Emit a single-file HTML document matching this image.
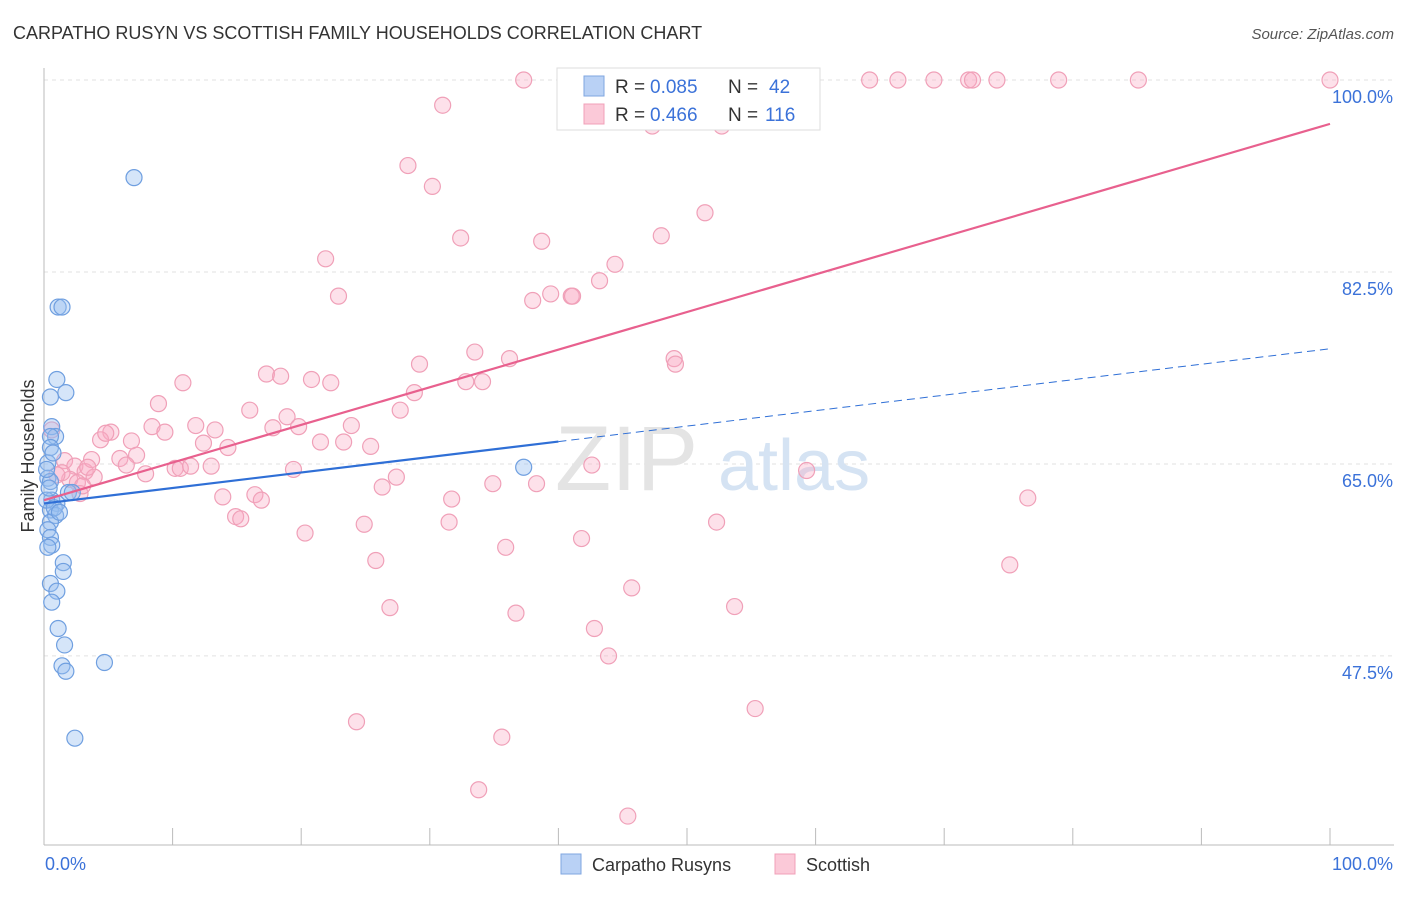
<!DOCTYPE html>
<html><head><meta charset="utf-8"><style>
body{margin:0;background:#fff;font-family:"Liberation Sans",sans-serif}
svg text{font-family:"Liberation Sans",sans-serif}
</style></head><body>
<svg id="chart" width="1406" height="892" xmlns="http://www.w3.org/2000/svg">
<text x="13" y="39" font-size="18" fill="#333">CARPATHO RUSYN VS SCOTTISH FAMILY HOUSEHOLDS CORRELATION CHART</text>
<text x="1394" y="39" font-size="15" fill="#555" font-style="italic" text-anchor="end">Source: ZipAtlas.com</text>
<g id="grid"></g>
<g><text x="555" y="490" font-size="92" fill="#e4e4e4" font-family="Liberation Serif">ZIP</text><text x="718" y="490" font-size="72" fill="#d5e3f3">atlas</text></g>
<g id="axes"></g>
<g id="pink"></g>
<g id="blue"></g>
<g id="trends"></g>
<text transform="translate(34,456) rotate(-90)" font-size="18" fill="#333" text-anchor="middle">Family Households</text>
<g>
<rect x="557" y="68" width="263" height="62" fill="#fff" stroke="#ddd"/>
<rect x="584" y="76" width="20" height="20" fill="#b9d1f5" stroke="#7fa6e0"/>
<rect x="584" y="104" width="20" height="20" fill="#fbc9d8" stroke="#f0a0b8"/>
<text x="615" y="93" font-size="19" fill="#333">R =</text>
<text x="650" y="93" font-size="19" fill="#3b72d9">0.085</text>
<text x="728" y="93" font-size="19" fill="#333">N =</text>
<text x="769" y="93" font-size="19" fill="#3b72d9">42</text>
<text x="615" y="121" font-size="19" fill="#333">R =</text>
<text x="650" y="121" font-size="19" fill="#3b72d9">0.466</text>
<text x="728" y="121" font-size="19" fill="#333">N =</text>
<text x="765" y="121" font-size="19" fill="#3b72d9">116</text>
</g>
<g>
<rect x="561" y="854" width="20" height="20" fill="#b9d1f5" stroke="#7fa6e0"/>
<text x="592" y="871" font-size="18" fill="#333">Carpatho Rusyns</text>
<rect x="775" y="854" width="20" height="20" fill="#fbc9d8" stroke="#f0a0b8"/>
<text x="806" y="871" font-size="18" fill="#333">Scottish</text>
</g>
</svg>
<script>
const yTicks=[47.5,65,82.5,100];
const yTickLabels=["47.5%","65.0%","82.5%","100.0%"];
const xTickLabels=["0.0%","100.0%"];
const blueX=[7.0,1.1,1.4,1.0,1.7,0.5,0.6,0.9,0.5,0.5,0.3,0.3,0.5,1.9,2.2,0.6,1.0,0.5,0.9,0.5,0.3,0.5,0.6,0.3,1.5,1.5,0.5,1.0,0.6,1.1,1.6,1.4,1.7,4.7,2.4,37.3,0.2,0.2,0.8,1.2,0.4,0.7];
const blueY=[91.1,79.3,79.3,72.7,71.5,71.1,68.4,67.5,67.5,66.5,65.1,63.7,63.4,62.4,62.4,61.7,61.4,60.8,60.3,59.7,59.0,58.3,57.6,57.4,56.0,55.2,54.1,53.4,52.4,50.0,48.5,46.6,46.1,46.9,40.0,64.7,61.7,64.5,61.0,60.6,62.8,66.0];
const pinkX=[37.3,51.8,58.9,64.2,66.4,69.2,71.9,72.2,74.1,78.9,85.1,100,31.0,47.3,52.7,28.3,30.2,51.4,32.4,48.0,38.7,21.9,44.4,43.2,22.9,39.4,41.0,41.1,38.0,33.5,36.2,49.0,49.1,29.2,17.3,18.4,20.8,22.3,10.8,32.8,34.1,28.8,8.9,16.0,27.7,18.9,23.9,5.2,8.4,11.8,13.3,17.8,19.8,9.4,4.4,4.8,6.8,12.4,21.5,23.3,25.4,14.3,5.9,7.2,6.4,10.2,10.6,11.4,13.0,7.9,19.4,42.6,59.3,0.6,1.6,2.4,3.2,3.7,2.0,3.9,2.6,1.4,3.4,13.9,16.4,16.9,26.3,27.4,34.9,38.3,31.7,76.5,14.9,15.3,24.9,31.5,52.3,20.3,35.9,41.8,25.8,75.1,45.7,26.9,36.7,53.7,42.8,43.9,24.3,55.3,35.6,33.8,45.4,2.8,1.0,3.0];
const pinkY=[100,100,100,100,100,100,100,100,100,100,100,100,97.7,95.8,95.8,92.2,90.3,87.9,85.6,85.8,85.3,83.7,83.2,81.7,80.3,80.5,80.3,80.3,79.9,75.2,74.6,74.6,74.1,74.1,73.2,73.0,72.7,72.4,72.4,72.5,72.5,71.5,70.5,69.9,69.9,69.3,68.5,67.9,68.4,68.5,68.1,68.3,68.4,67.9,67.2,67.8,67.1,66.9,67.0,67.0,66.6,66.5,65.5,65.8,64.9,64.6,64.6,64.8,64.8,64.1,64.5,64.9,64.4,68.1,65.3,64.8,64.3,65.4,63.6,63.8,63.3,64.2,64.7,62.0,62.2,61.7,62.9,63.8,63.2,63.2,61.8,61.9,60.2,60.0,59.5,59.7,59.7,58.7,57.4,58.2,56.2,55.8,53.7,51.9,51.4,52.0,50.0,47.5,41.5,42.7,40.1,35.3,32.9,62.3,64.0,63.0];
const blueTrend=[61.4,75.5];
const pinkTrend=[61.7,96.0];
const X=v=>44+v*12.86, Y=v=>80+(100-v)*10.97;
const NS="http://www.w3.org/2000/svg";
function mk(tag,attrs,parent){const e=document.createElementNS(NS,tag);for(const k in attrs)e.setAttribute(k,attrs[k]);parent.appendChild(e);return e;}
const grid=document.getElementById('grid'),axes=document.getElementById('axes');
yTicks.forEach((t,i)=>{
 const g=mk('line',{x1:44,x2:1394,y1:Y(t),y2:Y(t),stroke:'#e2e2e2','stroke-dasharray':'4,4'},grid);
 
 
 const l=mk('text',{x:1393,y:Y(t)+23,'font-size':18,fill:'#3b72d9','text-anchor':'end'},axes);
 l.textContent=yTickLabels[i];
 
 
});
mk('line',{x1:44,x2:44,y1:68,y2:845,stroke:'#bbb'},axes);
mk('line',{x1:44,x2:1394,y1:845,y2:845,stroke:'#bbb'},axes);
for(let i=0;i<=10;i++){const t=mk('line',{x1:X(i*10),x2:X(i*10),y1:828,y2:845,stroke:'#bbb'},axes);
 
 }
[[0,'start',45],[1,'end',1393]].forEach(([i,a,x])=>{const l=mk('text',{x:x,y:870,'font-size':18,fill:'#3b72d9','text-anchor':a},axes);l.textContent=xTickLabels[i];
 
 });
const pg=document.getElementById('pink');
pinkX.forEach((x,i)=>{const c=mk('circle',{cx:X(x),cy:Y(pinkY[i]),r:8,fill:'rgba(248,170,195,0.35)',stroke:'#f0a0b8','stroke-width':1.2},pg);
 
 });
const bg=document.getElementById('blue');
blueX.forEach((x,i)=>{const c=mk('circle',{cx:X(x),cy:Y(blueY[i]),r:8,fill:'rgba(150,190,240,0.4)',stroke:'#6f9fe0','stroke-width':1.2},bg);
 
 });
const tg=document.getElementById('trends');
const by=x=>blueTrend[0]+(blueTrend[1]-blueTrend[0])*x/100, py=x=>pinkTrend[0]+(pinkTrend[1]-pinkTrend[0])*x/100;
let t1=mk('line',{x1:X(0),y1:Y(by(0)),x2:X(40),y2:Y(by(40)),stroke:'#2f6fd6','stroke-width':2.2},tg);


let t2=mk('line',{x1:X(40),y1:Y(by(40)),x2:X(100),y2:Y(by(100)),stroke:'#2f6fd6','stroke-width':1,'stroke-dasharray':'8,5'},tg);


let t3=mk('line',{x1:X(0),y1:Y(py(0)),x2:X(100),y2:Y(py(100)),stroke:'#e8608e','stroke-width':2.2},tg);


</script>
</body></html>
